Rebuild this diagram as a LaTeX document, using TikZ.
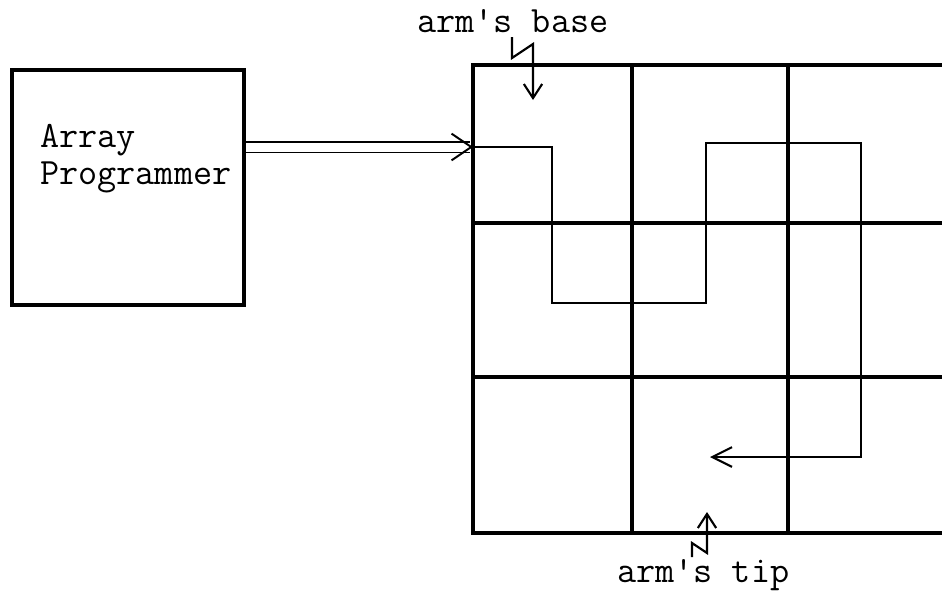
\documentclass[tikz,border=0pt]{standalone}
\usepackage{fontspec}
\usetikzlibrary{arrows.meta}

\begin{document}
\begin{tikzpicture}[x=0.025cm, y=-0.025cm,
  every node/.style={font=\ttfamily\fontsize{26.4}{30}\selectfont, inner sep=0pt},
  gridline/.style={line width=3.3pt},
  armline/.style={line width=1.5pt},
  pointer/.style={line width=1.5pt, -{Straight Barb[length=10pt,width=13pt]}}]
  \useasboundingbox (0,0) rectangle (942,593);
  % programmer box
  \node[draw, line width=2.8pt, minimum width=5.8cm, minimum height=5.875cm] (prog) at (128,187.5) {};
  \node[anchor=base west] (array) at (40,147) {Array};
  \node[anchor=base west] (programmer) at (40,184) {Programmer};
  % the array of cells
  \foreach \x in {473,632,788}
    \draw[gridline] (\x,65) -- (\x,533);
  \foreach \y in {65,223,377,533}
    \draw[gridline] (471.4,\y) -- (942,\y);
  % arm through the cells
  \coordinate (armbase) at (473,147);
  \coordinate (armtip) at (710,457);
  \draw[line width=1.4pt, double, double distance=6.4pt,
        -{Straight Barb[length=14pt,width=19pt]}] (prog.east |- armbase) -- (armbase);
  \draw[armline, -{Straight Barb[length=14pt,width=14pt]}]
    (armbase) -| (552,303) -| (706,143) -| (861,457) -- (armtip);
  % labels
  \node[anchor=base west] (base) at (417,32) {arm\textquotesingle s base};
  \node[anchor=base west] (tip) at (617,582) {arm\textquotesingle s tip};
  \coordinate (basefoot) at (512,37);
  \coordinate (basecell) at (533,100);
  \coordinate (tipfoot) at (692,557);
  \coordinate (tipcell) at (707,512);
  \draw[pointer] (basefoot) -- (512,58) -- (533,44) -- (basecell);
  \draw[pointer] (tipfoot) -- (692,543) -- (707,553) -- (tipcell);
\end{tikzpicture}
\end{document}
